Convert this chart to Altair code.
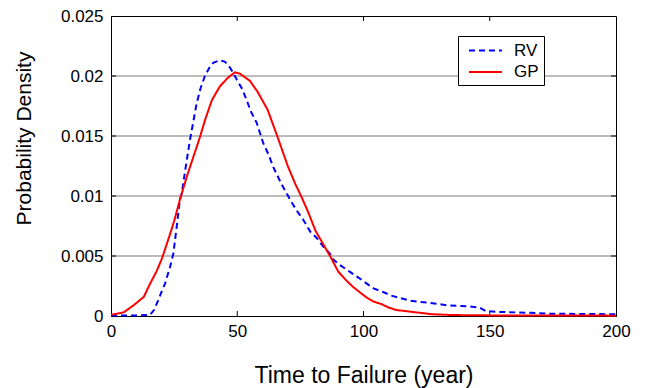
import altair as alt
import pandas as pd

# Probability density of the time to failure for two models
gp_t = [0, 5, 9, 13, 15.5, 18, 20, 21, 23.5, 25, 27.3, 30, 33, 35.2, 37.5, 40, 43, 46, 49, 51,
        55, 58, 62, 66, 70, 73, 75.5, 78, 81, 84, 87, 90, 93, 96, 99, 101.5, 104, 107, 110,
        113, 117, 121, 127, 135, 150, 175, 200]
gp_d = [0.0001, 0.0003, 0.0009, 0.0016, 0.0027, 0.0037, 0.0047, 0.0053, 0.0069, 0.0079, 0.0097,
        0.0116, 0.0135, 0.0149, 0.0165, 0.0180, 0.0191, 0.0198, 0.0203, 0.0202, 0.0196, 0.0187,
        0.0172, 0.0149, 0.0125, 0.0110, 0.0099, 0.0087, 0.0071, 0.0060, 0.0049, 0.0037, 0.0030,
        0.0024, 0.0019, 0.0015, 0.0012, 0.0010, 0.0007, 0.0005, 0.0004, 0.0003, 0.00015,
        0.00008, 0.00005, 0.00004, 0.00003]

rv_t = [0, 10, 15.5, 17, 18.7, 20, 21.4, 23.4, 24.7, 26, 27.3, 28, 29.5, 31.3, 33.9, 35.5, 37.2,
        39, 40.5, 43, 45, 46.5, 48, 49.8, 52, 53.7, 55.5, 57.7, 60.3, 62.3, 64.3, 67.5, 70.9,
        73.5, 76.2, 79, 81.5, 84, 86.7, 88, 91, 94.5, 98, 101.3, 104, 107.8, 111, 114.5, 118,
        121, 126, 133, 142, 146, 148.5, 155, 166, 172, 185, 200]
rv_d = [0.00005, 0.00005, 0.0001, 0.0005, 0.0013, 0.0020, 0.0027, 0.0041, 0.0052, 0.0074, 0.0097,
        0.0102, 0.0123, 0.0147, 0.0177, 0.0190, 0.0200, 0.0207, 0.0211, 0.0213, 0.0212, 0.0209,
        0.0204, 0.0197, 0.0189, 0.0180, 0.0170, 0.0161, 0.0144, 0.0135, 0.0124, 0.0110, 0.0097,
        0.0088, 0.0080, 0.0070, 0.0065, 0.0058, 0.0052, 0.0047, 0.0042, 0.0037, 0.0032, 0.0027,
        0.0023, 0.0020, 0.0017, 0.0015, 0.0013, 0.0012, 0.0011, 0.0009, 0.0008, 0.0007, 0.0004,
        0.00033, 0.00027, 0.0002, 0.00017, 0.00015]

x_ticks = [0, 50, 100, 150, 200]
y_ticks = [0, 0.005, 0.01, 0.015, 0.02, 0.025]
grid_vals = [0.005, 0.01, 0.015, 0.02]
series = ["RV", "GP"]
colors = ["#0000ff", "#ff0000"]

W, H = 505, 300
FONT = "Liberation Sans"

curves = pd.concat([
    pd.DataFrame({"t": rv_t, "d": rv_d, "model": "RV", "order": range(len(rv_t))}),
    pd.DataFrame({"t": gp_t, "d": gp_d, "model": "GP", "order": range(len(gp_t))}),
])

x_scale = alt.Scale(domain=[0, 200], nice=False, zero=False)
y_scale = alt.Scale(domain=[0, 0.025], nice=False)

x_axis = alt.Axis(values=x_ticks, grid=False, ticks=False, labelPadding=7,
                  labelFontSize=17, labelFont=FONT, labelColor="black",
                  title="Time to Failure (year)", titleFontSize=23, titleFont=FONT,
                  titleFontWeight="normal", titleColor="black", titleY=59,
                  titleBaseline="middle", domainColor="black", labelFlush=False)
y_axis = alt.Axis(values=y_ticks, grid=False, ticks=False, labelPadding=8, format=".3~f",
                  labelFontSize=17, labelFont=FONT, labelColor="black",
                  title="Probability Density", titleFontSize=21, titleFont=FONT,
                  titleFontWeight="normal", titleColor="black", titleAngle=270,
                  titleX=-87, titleY=122, titleAlign="center", titleBaseline="middle",
                  domainColor="black", labelFlush=False)

X = lambda f: alt.X(f, scale=x_scale, axis=x_axis)
Y = lambda f: alt.Y(f, scale=y_scale, axis=y_axis)

# horizontal gridlines
grid = alt.Chart(pd.DataFrame({"g": grid_vals})).mark_rule(
    color="#7a7a7a", strokeWidth=1.2
).encode(y=Y("g:Q"))

# inward ticks on bottom and top
xt = pd.DataFrame({"t": x_ticks[1:-1]})
xtick_bottom = alt.Chart(xt).mark_rule(color="black", strokeWidth=1).encode(
    x=X("t:Q"), y=alt.value(H), y2=alt.value(H - 5))
xtick_top = alt.Chart(xt).mark_rule(color="black", strokeWidth=1).encode(
    x=X("t:Q"), y=alt.value(0), y2=alt.value(5))

# inward ticks on left and right
yt = pd.DataFrame({"g": grid_vals})
ytick_left = alt.Chart(yt).mark_rule(color="black", strokeWidth=1).encode(
    y=Y("g:Q"), x=alt.value(0), x2=alt.value(5))
ytick_right = alt.Chart(yt).mark_rule(color="black", strokeWidth=1).encode(
    y=Y("g:Q"), x=alt.value(W - 5), x2=alt.value(W))

# trailing spaces widen the legend box on the right
legend = alt.Legend(title=None, orient="none", legendX=347, legendY=20,
                    labelExpr="datum.label + '\u00a0\u00a0'")
lines = alt.Chart(curves).mark_line(strokeWidth=2).encode(
    x=X("t:Q"),
    y=Y("d:Q"),
    color=alt.Color("model:N", scale=alt.Scale(domain=series, range=colors), legend=legend),
    strokeDash=alt.StrokeDash("model:N",
                              scale=alt.Scale(domain=series, range=[[6, 4], [1, 0]]),
                              legend=legend),
    order="order:Q",
)

chart = alt.layer(grid, xtick_bottom, xtick_top, ytick_left, ytick_right, lines).properties(
    width=W, height=H,
    background="white",
    autosize=alt.AutoSizeParams(type="none"),
    padding={"left": 111, "top": 16, "right": 43, "bottom": 72},
).configure_view(
    stroke="black", strokeWidth=1
).configure_legend(
    fillColor="white", strokeColor="black", padding=5, symbolOffset=13,
    symbolType="M-2,0L2,0", symbolSize=272, symbolStrokeWidth=2,
    labelFontSize=17, labelFont=FONT, labelColor="black", labelOffset=19,
    rowPadding=3.5, cornerRadius=0,
)

chart.save("out.html", embed_options={"renderer": "svg", "actions": False})
